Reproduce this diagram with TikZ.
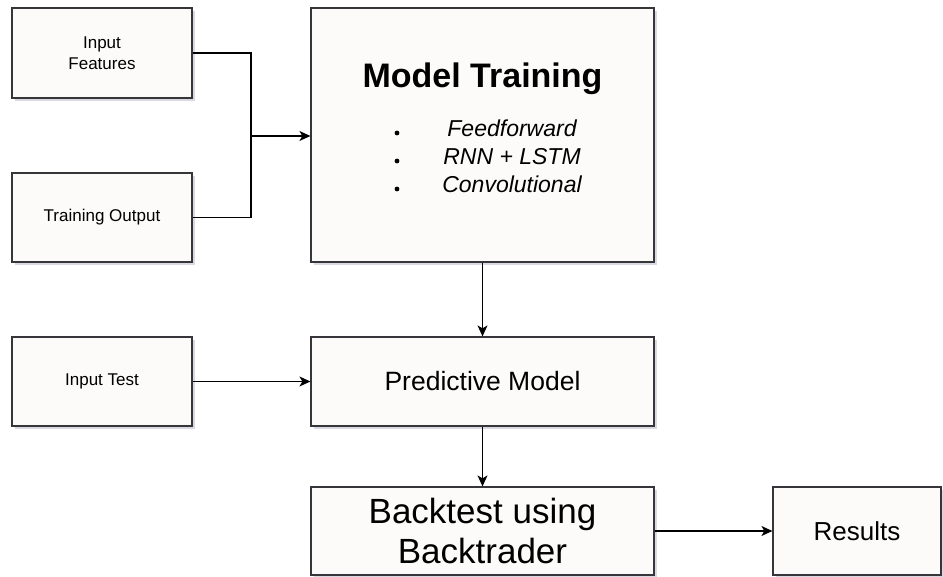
\documentclass[tikz,border=0pt]{standalone}
\usepackage{fontspec}
\setmainfont{Liberation Sans}
\usetikzlibrary{arrows.meta,positioning,shadows}
\definecolor{boxfill}{HTML}{FDFBFA}
\definecolor{boxline}{HTML}{36363A}
\definecolor{shade}{HTML}{8E92B0}

\begin{document}
\begin{tikzpicture}[x=1pt,y=-1pt,
    blk/.style={draw=boxline,fill=boxfill,line width=1.2pt,rectangle,inner sep=0pt,align=center,
      drop shadow={shadow xshift=3pt,shadow yshift=-3pt,fill=shade,opacity=0.35}},
    small/.style={font=\fontsize{17}{21}\selectfont},
    link/.style={black,line width=1.2pt,-{Stealth[length=11pt,width=10pt,inset=3pt]}}]
  \useasboundingbox (0,0) rectangle (943,577);
  % inputs on the left
  \node[blk,small,minimum width=180pt,minimum height=90pt] (feat) at (102,53) {Input\\Features};
  \node[blk,small,minimum width=180pt,minimum height=89pt] (trout) at (102,217.5) {Training Output};
  \node[blk,small,minimum width=180pt,minimum height=89pt] (test) at (102,381.5) {Input Test};
  % main column
  \node[blk,minimum width=343pt,minimum height=254pt] (train) at (482.5,135) {};
  \node[blk,font=\fontsize{26.5}{32}\selectfont,minimum width=343pt,minimum height=89pt] (pred) at (482.5,381.5) {Predictive Model};
  \node[blk,font=\fontsize{35}{40}\selectfont,minimum width=343pt,minimum height=88pt] (btest) at (482.5,531) {Backtest using\\Backtrader};
  \node[blk,font=\fontsize{26}{32}\selectfont,minimum width=168pt,minimum height=88pt] (res) at (857,531) {Results};
  % contents of the training box
  \node[anchor=base,font=\bfseries\fontsize{34}{40}\selectfont] (ttitle) at (482.5,88) {Model Training};
  \foreach \t [count=\i] in {Feedforward,RNN + LSTM,Convolutional} {
    \node[anchor=base,font=\itshape\fontsize{23}{28}\selectfont] (item\i) at (512,109+28*\i) {\t};
    \fill (397,105+28*\i) circle (2.4pt);
  }
  % connectors
  \coordinate (join) at (251,136);
  \draw[black,line width=1.2pt] (feat.east) -| (join);
  \draw[black,line width=1.2pt] (trout.east) -| (join);
  \draw[link] (join) -- (join -| train.west);
  \draw[link] (train.south) -- (pred.north);
  \draw[link] (test.east) -- (pred.west);
  \draw[link] (pred.south) -- (btest.north);
  \draw[link] (btest.east) -- (res.west);
\end{tikzpicture}
\end{document}
